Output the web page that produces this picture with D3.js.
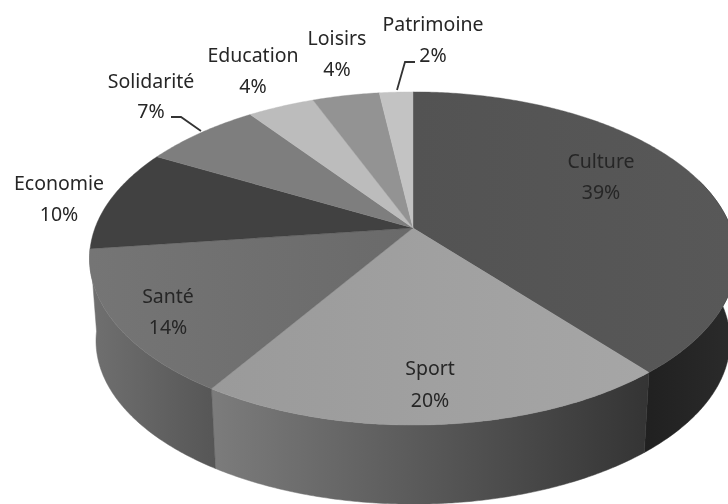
<!DOCTYPE html>
<html>
<head>
<meta charset="utf-8">
<script src="https://cdn.jsdelivr.net/npm/d3@7"></script>
<style>
html,body{margin:0;padding:0;background:#fff;overflow:hidden}
svg{display:block;filter:blur(0.55px)}
text{font-family:"Noto Sans",sans-serif;font-size:19.5px;fill:#262626;text-anchor:middle}
</style>
</head>
<body>
<svg id="c" width="728" height="504"></svg>
<script>
const categories = ["Culture","Sport","Santé","Economie","Solidarité","Education","Loisirs","Patrimoine"];
const values = [39,20,14,10,7,4,4,2];
const topColorsA = ["#535353","#9a9a9a","#757575","#414141","#7e7e7e","#bcbcbc","#939393","#c3c3c3"];
const topColorsB = ["#585858","#a6a6a6","#6a6a6a","#414141","#7e7e7e","#bcbcbc","#939393","#c3c3c3"];
const wallColorsA = ["#202020","#7c7c7c","#707070"];
const wallColorsB = ["#2b2b2b","#343434","#565656"];
const labelBaselines = [[601,168],[430,375],[168,303],[59,190],[151,88],[253,62],[337,45],[433,31]];
const labelGaps = [31,32,31,31,30,31,31,31];
const leaders = [null,null,null,null,[[171,117],[181,117],[201,131]],null,null,[[397,90],[405,62],[415,62]]];

const svg = d3.select("#c");
const apex = [413,228], Rx = 318, a = 161, k = 0.183;
const wallScale = 0.98, wallDrop = 83;
const proj = (t, s=1, dy=0) => {
  const u = Math.sin(t), v = -Math.cos(t), d = 1 - k*v;
  return [apex[0] + s*Rx*u/d, apex[1] + s*a*v/d + dy];
};
const arcPts = (t0,t1,s,dy) => {
  const n = Math.max(2, Math.ceil((t1-t0)/0.01));
  return d3.range(n+1).map(i => proj(t0+(t1-t0)*i/n, s, dy));
};
const line = d3.line();
const arcs = d3.pie().sort(null).value(d=>d)(values);

const defs = svg.append("defs");
function grad(id,c0,c1,x0,x1){
  const g = defs.append("linearGradient").attr("id",id).attr("gradientUnits","userSpaceOnUse")
    .attr("x1",x0).attr("x2",x1).attr("y1",0).attr("y2",0);
  g.append("stop").attr("offset",0).attr("stop-color",c0);
  g.append("stop").attr("offset",1).attr("stop-color",c1);
}

// walls: only the front-facing slices have a visible side
const wallMin = Math.PI*0.40;
arcs.forEach((d,i)=>{
  if(i>=wallColorsA.length) return;
  const t0 = Math.max(d.startAngle,wallMin), t1 = d.endAngle;
  const top = arcPts(t0,t1,1,0), bot = arcPts(t0,t1,wallScale,wallDrop).reverse();
  const [x0,x1] = d3.extent(top.concat(bot),p=>p[0]);
  grad("w"+i, wallColorsA[i], wallColorsB[i], x0, x1);
  svg.append("path").attr("d",line(top.concat(bot))+"Z").attr("fill",`url(#w${i})`)
    .attr("stroke",`url(#w${i})`).attr("stroke-width",0.5);
});

// top face
arcs.forEach((d,i)=>{
  const pts = [apex].concat(arcPts(d.startAngle,d.endAngle,1,0));
  const [x0,x1] = d3.extent(pts,p=>p[0]);
  grad("t"+i, topColorsA[i], topColorsB[i], x0, x1);
  svg.append("path").attr("d",line(pts)+"Z").attr("fill",`url(#t${i})`)
    .attr("stroke",topColorsA[i]).attr("stroke-width",0.4);
});

// leader lines
leaders.forEach(l=>{
  if(!l) return;
  svg.append("path").attr("d",line(l)).attr("fill","none").attr("stroke","#333").attr("stroke-width",1.8);
});

// labels
categories.forEach((c,i)=>{
  const [x,y] = labelBaselines[i];
  const t = svg.append("text").attr("y",y);
  t.append("tspan").attr("x",x).text(c);
  t.append("tspan").attr("x",x).attr("dy",labelGaps[i]).text(values[i]+"%");
});
</script>
</body>
</html>
